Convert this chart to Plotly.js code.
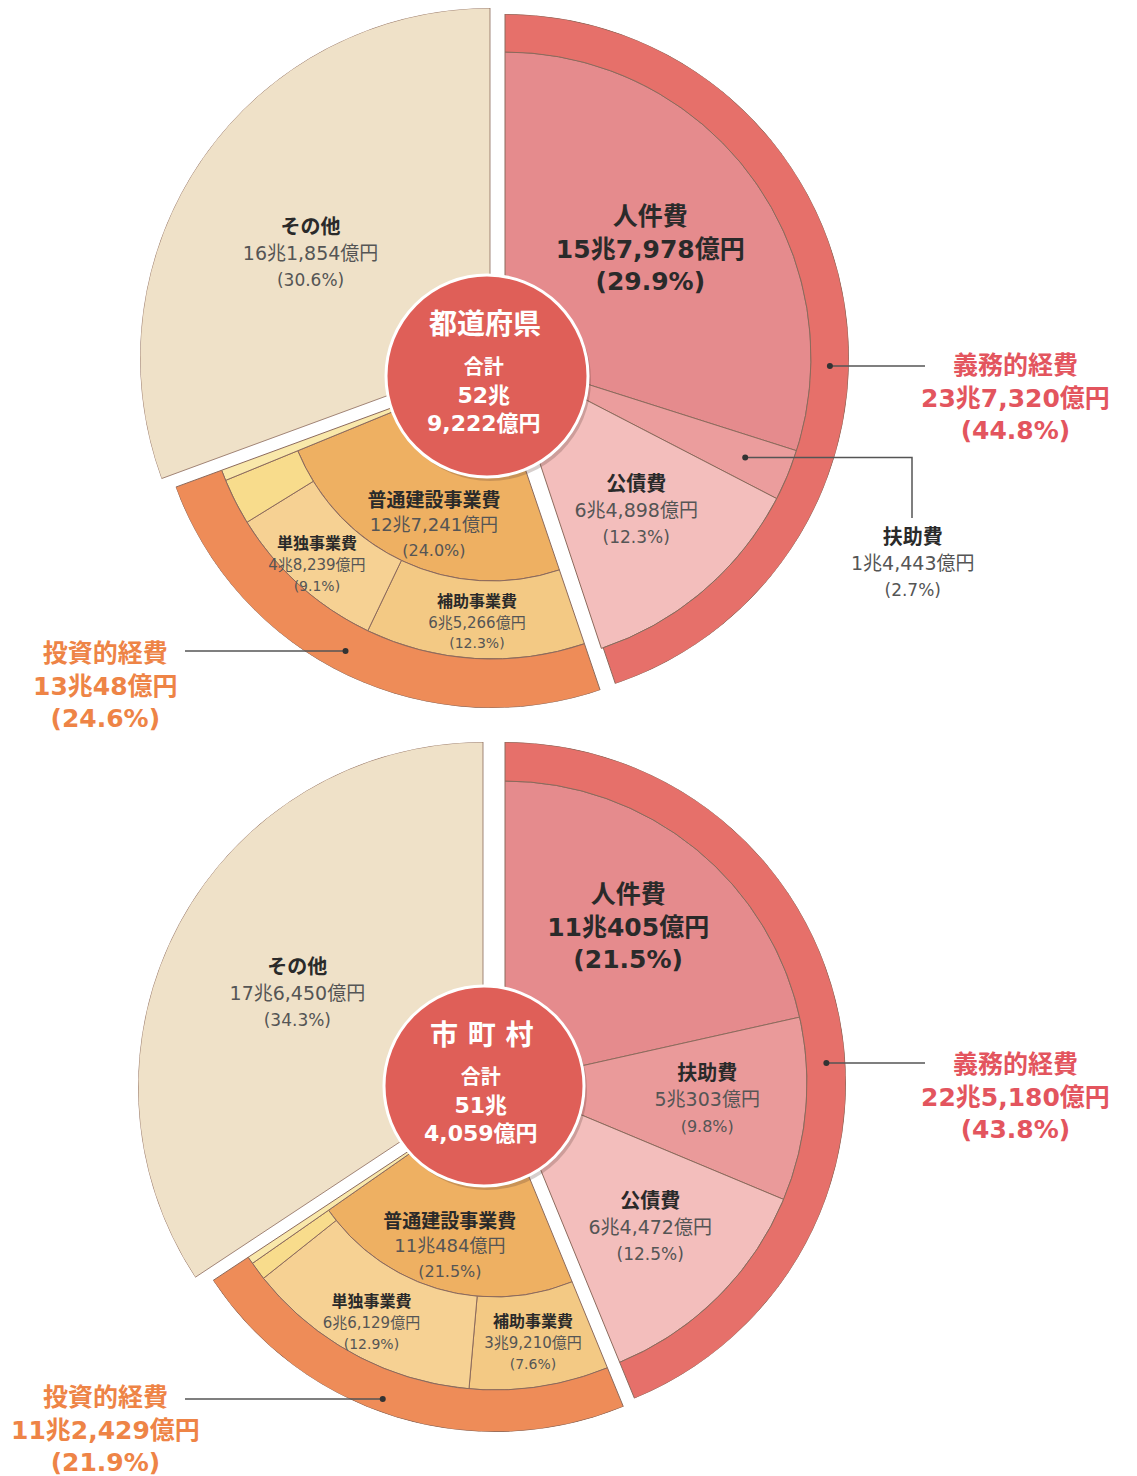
<!DOCTYPE html>
<html><head><meta charset="utf-8">
<script src="https://cdn.plot.ly/plotly-3.0.1.min.js"></script>
<style>html,body{margin:0;padding:0;background:#fff;}#chart{width:1137px;height:1476px;}</style>
</head><body><div id="chart"></div>
<script>
// ---------------- DATA ----------------
// 都道府県
const prefTitle = '都道府県';
const prefTotalTrillion = '52兆';
const prefTotalRest = '9,222億円';
const prefGroupLabels = ['義務的経費', '投資的経費', 'その他'];
const prefGroupPct = [44.8, 24.6, 30.6];
const prefGroupAmt = ['23兆7,320億円', '13兆48億円', '16兆1,854億円'];
const prefMandLabels = ['人件費', '扶助費', '公債費'];
const prefMandPct = [29.9, 2.7, 12.3];
const prefMandAmt = ['15兆7,978億円', '1兆4,443億円', '6兆4,898億円'];
const prefConstrLabel = '普通建設事業費';
const prefConstrPct = 24.0;
const prefConstrAmt = '12兆7,241億円';
const prefSubLabels = ['補助事業費', '単独事業費'];
const prefSubPct = [12.3, 9.1];
const prefSubAmt = ['6兆5,266億円', '4兆8,239億円'];

// 市町村
const muniTitle = '市 町 村';
const muniTotalTrillion = '51兆';
const muniTotalRest = '4,059億円';
const muniGroupLabels = ['義務的経費', '投資的経費', 'その他'];
const muniGroupPct = [43.8, 21.9, 34.3];
const muniGroupAmt = ['22兆5,180億円', '11兆2,429億円', '17兆6,450億円'];
const muniMandLabels = ['人件費', '扶助費', '公債費'];
const muniMandPct = [21.5, 9.8, 12.5];
const muniMandAmt = ['11兆405億円', '5兆303億円', '6兆4,472億円'];
const muniConstrLabel = '普通建設事業費';
const muniConstrPct = 21.5;
const muniConstrAmt = '11兆484億円';
const muniSubLabels = ['補助事業費', '単独事業費'];
const muniSubPct = [7.6, 12.9];
const muniSubAmt = ['3兆9,210億円', '6兆6,129億円'];

// ---------------- STYLE ----------------
const W = 1137, H = 1476;
const FONT = '"DejaVu Sans", "Noto Sans CJK JP", sans-serif';
const C = {
  oth: '#EFE1C8', jinken: '#E58B8D', fujo: '#EB9D9D', kousai: '#F3BEBC',
  mandRing: '#E6706A', constr: '#EEB062', hojo: '#F3C984', tandoku: '#F6D193',
  yellow: '#F8DC8C', sliver: '#F9E8AA', invRing: '#EE8C58', circle: '#DF5F58',
  outline: '#8C6A5C', redText: '#E3555E', orangeText: '#EE8446', name: '#2a2a2a', value: '#555555'
};

const charts = [
  {
    title: prefTitle, tTri: prefTotalTrillion, tRest: prefTotalRest,
    gLab: prefGroupLabels, gPct: prefGroupPct, gAmt: prefGroupAmt,
    mLab: prefMandLabels, mPct: prefMandPct, mAmt: prefMandAmt,
    cLab: prefConstrLabel, cPct: prefConstrPct, cAmt: prefConstrAmt,
    sLab: prefSubLabels, sPct: prefSubPct, sAmt: prefSubAmt,
    geo: {
      oth: {cx: 490, cy: 358, R: 350},
      mand: {cx: 505, cy: 358, R: 344, pie: 306},
      inv: {cx: 492, cy: 371, R: 337, band: 210, ring0: 288},
      circ: {cx: 487, cy: 376, r: 101},
      othLab: {r: 207, dt: -5, ns: 20, vs: 19, ps: 17},
      mandLab: [{r: 180, big: true, ns: 25}, {out: true, r: 260, lineX: 912, lineY2: 518, labY: 562, ns: 20, vs: 19, ps: 17}, {r: 202, ns: 20, vs: 19, ps: 17}],
      constrLab: {r: 166, dt: -4, ns: 19, vs: 18, ps: 16},
      subLab: [{r: 253, ns: 16, vs: 15, ps: 14}, {r: 262, ns: 16, vs: 15, ps: 14}],
      mandOut: {y: 366, lineX: 925, labX: 1015, labY: 398, dotR: 325},
      invOut: {y: 651, lineX: 185, labX: 105, labY: 686, dotR: 316},
      fujoColor: C.fujo
    }
  },
  {
    title: muniTitle, tTri: muniTotalTrillion, tRest: muniTotalRest,
    gLab: muniGroupLabels, gPct: muniGroupPct, gAmt: muniGroupAmt,
    mLab: muniMandLabels, mPct: muniMandPct, mAmt: muniMandAmt,
    cLab: muniConstrLabel, cPct: muniConstrPct, cAmt: muniConstrAmt,
    sLab: muniSubLabels, sPct: muniSubPct, sAmt: muniSubAmt,
    geo: {
      oth: {cx: 483, cy: 1087, R: 345},
      mand: {cx: 505, cy: 1083, R: 341, pie: 302},
      inv: {cx: 495, cy: 1094, R: 338, band: 203, ring0: 296},
      circ: {cx: 484, cy: 1086, r: 100},
      othLab: {r: 207, dt: -2, ns: 20, vs: 19, ps: 17},
      mandLab: [{r: 197, big: true, ns: 25}, {r: 203, ns: 20, vs: 19, ps: 16}, {r: 206, ns: 20, vs: 19, ps: 17}],
      constrLab: {r: 160, dt: 0, ns: 19, vs: 18, ps: 16},
      subLab: [{r: 253, ns: 16, vs: 15, ps: 14}, {r: 261, ns: 16, vs: 15, ps: 14}],
      mandOut: {y: 1063, lineX: 925, labX: 1015, labY: 1097, dotR: 322},
      invOut: {y: 1399, lineX: 185, labX: 105, labY: 1430, dotR: 325},
      fujoColor: '#EA9A9A'
    }
  }
];

// ---------------- HELPERS ----------------
const deg = p => p * 3.6;
const px = x => x / W;
const py = y => 1 - y / H;
const pid = n => (n === 1 ? 'polar' : 'polar' + n);
function cum(arr, start) { const out = []; let s = start; arr.forEach(v => { out.push(s); s += v; }); return out; }
function domain(cx, cy, R) { return {x: [px(cx - R), px(cx + R)], y: [py(cy + R), py(cy - R)]}; }
function polarLayout(g) {
  return {
    domain: domain(g.cx, g.cy, g.R), bgcolor: 'rgba(0,0,0,0)', barmode: 'overlay',
    radialaxis: {range: [0, g.R], visible: false, showgrid: false},
    angularaxis: {visible: false, rotation: 90, direction: 'clockwise', showgrid: false}
  };
}
function bars(sub, starts, widths, base, thick, colors, lw) {
  return {
    type: 'barpolar', subplot: sub,
    theta: starts.map((s, i) => deg(s + widths[i] / 2)), width: widths.map(deg),
    base: starts.map(() => base), r: starts.map(() => thick),
    marker: {color: colors, line: {color: C.outline, width: lw}},
    hoverinfo: 'skip', showlegend: false
  };
}
function txt(sub, r, theta, text, size) {
  return {
    type: 'scatterpolar', subplot: sub, r: [r], theta: [theta], mode: 'text', text: [text],
    textposition: 'middle center', textfont: {family: FONT, size: size, color: C.name},
    hoverinfo: 'skip', showlegend: false, cliponaxis: false
  };
}
function sliceText(name, amt, pct, st) {
  if (st.big) return `<b>${name}<br>${amt}<br>(${pct.toFixed(1)}%)</b>`;
  return `<b>${name}</b><br><span style="color:${C.value};font-size:${st.vs}px">${amt}</span><br><span style="color:${C.value};font-size:${st.ps}px">(${pct.toFixed(1)}%)</span>`;
}
function polarPoint(g, r, thetaDeg) {
  const t = thetaDeg * Math.PI / 180;
  return [g.cx + r * Math.sin(t), g.cy - r * Math.cos(t)];
}
function dot(x, y) {
  return {type: 'circle', xref: 'paper', yref: 'paper', x0: px(x - 3), x1: px(x + 3), y0: py(y + 3), y1: py(y - 3), fillcolor: '#333', line: {width: 0}};
}

const traces = [];
const layout = {
  width: W, height: H, margin: {l: 0, r: 0, t: 0, b: 0},
  paper_bgcolor: '#ffffff', showlegend: false, shapes: [], annotations: [], dragmode: false
};

charts.forEach((d, k) => {
  const g = d.geo;
  const pO = pid(k * 3 + 1), pM = pid(k * 3 + 2), pI = pid(k * 3 + 3);
  layout[pO] = polarLayout(g.oth);
  layout[pM] = polarLayout(g.mand);
  layout[pI] = polarLayout(g.inv);

  const mandTot = d.gPct[0], invTot = d.gPct[1], othTot = d.gPct[2];
  const S = mandTot;

  // その他
  traces.push(bars(pO, [S + invTot], [othTot], 0, g.oth.R, [C.oth], 0.8));
  // 義務的経費 slices + ring
  const mStarts = cum(d.mPct, 0);
  traces.push(bars(pM, mStarts, d.mPct, 0, g.mand.pie, [C.jinken, g.fujoColor, C.kousai], 1));
  traces.push(bars(pM, [0], [mandTot], g.mand.pie, g.mand.R - g.mand.pie, [C.mandRing], 1));
  // 投資的経費
  traces.push(bars(pI, [S], [d.cPct], 0, g.inv.band, [C.constr], 1));
  const outerPct = [d.sPct[0], d.sPct[1], d.cPct - d.sPct[0] - d.sPct[1]];
  traces.push(bars(pI, cum(outerPct, S), outerPct, g.inv.band, g.inv.ring0 - g.inv.band, [C.hojo, C.tandoku, C.yellow], 1));
  traces.push(bars(pI, [S + d.cPct], [invTot - d.cPct], 0, g.inv.ring0, [C.sliver], 1));
  traces.push(bars(pI, [S], [invTot], g.inv.ring0, g.inv.R - g.inv.ring0, [C.invRing], 1));

  // slice labels
  traces.push(txt(pO, g.othLab.r, deg(S + invTot + othTot / 2) + g.othLab.dt,
    sliceText(d.gLab[2], d.gAmt[2], othTot, g.othLab), g.othLab.ns));
  d.mLab.forEach((name, i) => {
    const st = g.mandLab[i];
    const th = deg(mStarts[i] + d.mPct[i] / 2);
    if (st.out) {
      const [x0, y0] = polarPoint(g.mand, st.r, th);
      layout.shapes.push({type: 'path', xref: 'paper', yref: 'paper',
        path: `M${px(x0)},${py(y0)} L${px(st.lineX)},${py(y0)} L${px(st.lineX)},${py(st.lineY2)}`,
        line: {color: '#555', width: 1.5}});
      layout.shapes.push(dot(x0, y0));
      layout.annotations.push({xref: 'paper', yref: 'paper', x: px(st.lineX), y: py(st.labY), xanchor: 'center', yanchor: 'middle', showarrow: false,
        text: sliceText(name, d.mAmt[i], d.mPct[i], st), font: {family: FONT, size: st.ns, color: C.name}});
    } else {
      traces.push(txt(pM, st.r, th, sliceText(name, d.mAmt[i], d.mPct[i], st), st.ns));
    }
  });
  traces.push(txt(pI, g.constrLab.r, deg(S + d.cPct / 2) + g.constrLab.dt,
    sliceText(d.cLab, d.cAmt, d.cPct, g.constrLab), g.constrLab.ns));
  const sStarts = cum(d.sPct, S);
  d.sLab.forEach((name, i) => {
    const st = g.subLab[i];
    traces.push(txt(pI, st.r, deg(sStarts[i] + d.sPct[i] / 2), sliceText(name, d.sAmt[i], d.sPct[i], st), st.ns));
  });

  // external group labels with leaders
  const mo = g.mandOut;
  const mx = g.mand.cx + Math.sqrt(mo.dotR * mo.dotR - (mo.y - g.mand.cy) ** 2);
  layout.shapes.push({type: 'line', xref: 'paper', yref: 'paper', x0: px(mx), x1: px(mo.lineX), y0: py(mo.y), y1: py(mo.y), line: {color: '#555', width: 1.5}});
  layout.shapes.push(dot(mx, mo.y));
  layout.annotations.push({xref: 'paper', yref: 'paper', x: px(mo.labX), y: py(mo.labY), xanchor: 'center', yanchor: 'middle', showarrow: false,
    text: `<b>${d.gLab[0]}<br>${d.gAmt[0]}<br>(${mandTot.toFixed(1)}%)</b>`, font: {family: FONT, size: 25, color: C.redText}});

  const io = g.invOut;
  const ix = g.inv.cx - Math.sqrt(io.dotR * io.dotR - (io.y - g.inv.cy) ** 2);
  layout.shapes.push({type: 'line', xref: 'paper', yref: 'paper', x0: px(io.lineX), x1: px(ix), y0: py(io.y), y1: py(io.y), line: {color: '#555', width: 1.5}});
  layout.shapes.push(dot(ix, io.y));
  layout.annotations.push({xref: 'paper', yref: 'paper', x: px(io.labX), y: py(io.labY), xanchor: 'center', yanchor: 'middle', showarrow: false,
    text: `<b>${d.gLab[1]}<br>${d.gAmt[1]}<br>(${invTot.toFixed(1)}%)</b>`, font: {family: FONT, size: 25, color: C.orangeText}});

  // centre circle
  const c = g.circ;
  layout.shapes.push({type: 'circle', xref: 'paper', yref: 'paper', x0: px(c.cx - c.r + 3), x1: px(c.cx + c.r + 3), y0: py(c.cy + c.r + 4), y1: py(c.cy - c.r + 4),
    fillcolor: 'rgba(90,60,50,0.25)', line: {width: 0}});
  layout.shapes.push({type: 'circle', xref: 'paper', yref: 'paper', x0: px(c.cx - c.r), x1: px(c.cx + c.r), y0: py(c.cy + c.r), y1: py(c.cy - c.r),
    fillcolor: C.circle, line: {color: '#ffffff', width: 3}});
  layout.annotations.push({xref: 'paper', yref: 'paper', x: px(c.cx - 2), y: py(c.cy - 51), xanchor: 'center', yanchor: 'middle', showarrow: false,
    text: `<b>${d.title}</b>`, font: {family: FONT, size: 28, color: '#ffffff'}});
  layout.annotations.push({xref: 'paper', yref: 'paper', x: px(c.cx - 3), y: py(c.cy + 19), xanchor: 'center', yanchor: 'middle', showarrow: false,
    text: `<b><span style="font-size:20px">合計</span><br>${d.tTri}<br>${d.tRest}</b>`, font: {family: FONT, size: 22, color: '#ffffff'}});
});

Plotly.newPlot('chart', traces, layout, {staticPlot: true, displayModeBar: false});
</script></body></html>
